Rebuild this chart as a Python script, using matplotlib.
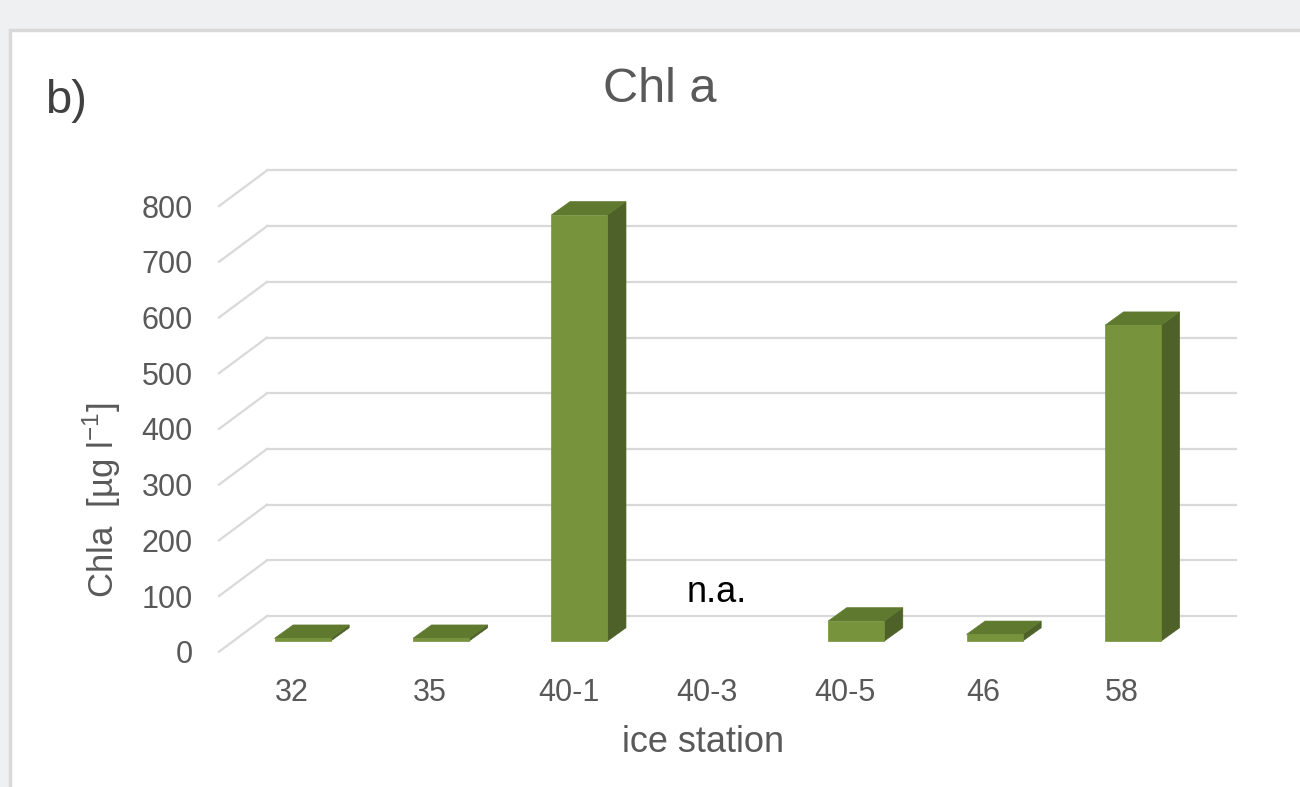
import numpy as np
import matplotlib.pyplot as plt
from matplotlib.patches import Polygon, Rectangle

plt.rcParams['font.family'] = ['Liberation Sans', 'DejaVu Sans']
plt.rcParams['mathtext.fontset'] = 'custom'
plt.rcParams['mathtext.rm'] = 'Liberation Sans'

stations = ['32', '35', '40-1', '40-3', '40-5', '46', '58']
chla = [5, 5, 765, np.nan, 36, 12, 567]   # 40-3 not analysed
yticks = [0, 100, 200, 300, 400, 500, 600, 700, 800]

# 3d look (data units)
wall_dx, wall_dy = 0.347, 64      # back wall offset from front plane
bar_dx, bar_dy = 0.104, 19        # bar front face offset
dep_dx, dep_dy = 0.134, 24        # bar depth
bar_w = 0.405

c_front = '#77933c'
c_top = '#5f7a2f'
c_side = '#4e6128'
grid_c = '#d9d9d9'
text_c = '#595959'

fig = plt.figure(figsize=(13, 7.87), dpi=100, facecolor='#eff0f2')
fig.patches.append(Rectangle((10 / 1300, -0.01), 1.0, 1 - 30 / 787 + 0.01,
                             transform=fig.transFigure, facecolor='white',
                             edgecolor='#d9d9d9', lw=2.5, zorder=-5))

ax = fig.add_axes([219 / 1300, 1 - 651.7 / 787, 968.8 / 1300, 445.6 / 787])
ax.set_facecolor('none')
n = len(stations)
ax.set_xlim(-0.5, n - 0.5)
ax.set_ylim(0, 800)
for s in ax.spines.values():
    s.set_visible(False)

# back wall gridlines + floor diagonals
for v in yticks:
    ax.plot([-0.5 + wall_dx, n - 0.5 + wall_dx], [v + wall_dy, v + wall_dy],
            color=grid_c, lw=1.6, clip_on=False, zorder=1)
    ax.plot([-0.5, -0.5 + wall_dx], [v, v + wall_dy],
            color=grid_c, lw=1.6, clip_on=False, zorder=1)

# 3d bars
for i, v in enumerate(chla):
    if np.isnan(v):
        continue
    x0 = i - bar_w / 2 + bar_dx
    x1 = i + bar_w / 2 + bar_dx
    y0 = bar_dy
    y1 = v + bar_dy
    front = [(x0, y0), (x1, y0), (x1, y1), (x0, y1)]
    top = [(x0, y1), (x1, y1), (x1 + dep_dx, y1 + dep_dy), (x0 + dep_dx, y1 + dep_dy)]
    side = [(x1, y0), (x1 + dep_dx, y0 + dep_dy), (x1 + dep_dx, y1 + dep_dy), (x1, y1)]
    for pts, c in [(side, c_side), (top, c_top), (front, c_front)]:
        ax.add_patch(Polygon(pts, closed=True, facecolor=c, edgecolor=c,
                             lw=0.5, clip_on=False, zorder=3))

ax.text(3 + 0.094, 89, 'n.a.', ha='center', va='baseline', fontsize=26, color='black')

ax.set_xticks(np.arange(n) + 0.025)
ax.set_xticklabels(stations)
ax.set_yticks(yticks)
ax.tick_params(axis='x', length=0, pad=19, labelsize=22, labelcolor=text_c)
ax.tick_params(axis='y', length=0, pad=19, labelsize=22, labelcolor=text_c)

ax.set_xlabel('ice station', fontsize=26, color=text_c, va='center')
ax.xaxis.set_label_coords(0.5, (651.7 - 742) / 445.6)
ax.set_ylabel('Chla  [µg l$^{-1}$]', fontsize=25, color=text_c, va='center')
ax.yaxis.set_label_coords((102 - 219) / 968.8, (651.7 - 500) / 445.6)

fig.text(660 / 1300, 1 - 90 / 787, 'Chl a', ha='center', va='center', fontsize=35, color=text_c)
fig.text(45 / 1300, 1 - 101 / 787, 'b)', ha='left', va='center', fontsize=34, color='#404040')

fig.savefig('out.png', dpi=100, facecolor=fig.get_facecolor())
